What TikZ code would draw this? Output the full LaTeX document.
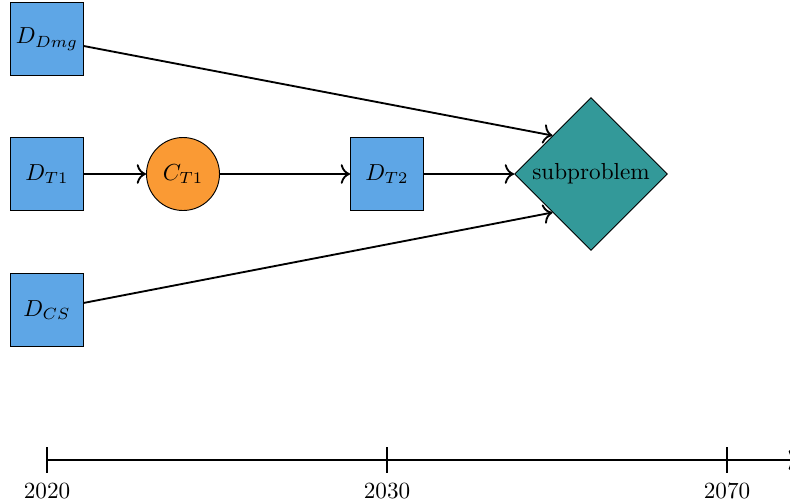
\documentclass[tikz,border=0pt]{standalone}
\usepackage{tikz}
\usetikzlibrary{shapes.geometric,positioning,arrows.meta}

\definecolor{datablue}{HTML}{5EA6E6}
\definecolor{calcorange}{HTML}{FA9A34}
\definecolor{subteal}{HTML}{339999}

\tikzset{
	databox/.style = {draw, fill=datablue, minimum size=31.5pt, inner sep=0pt},
	calccircle/.style = {draw, circle, fill=calcorange, minimum size=31.5pt, inner sep=0pt},
	subdiamond/.style = {draw, diamond, fill=subteal, minimum size=66pt, inner sep=0pt},
	link/.style = {thick, -{To[scale=1.2]}}
}

\begin{document}
\begin{tikzpicture}[x=0.01517cm, y=-0.01517cm]
	\useasboundingbox (0,0) rectangle (790,502);
	% data and subproblem
	\node[databox] (dmg) at (47,39) {$D_{Dmg}$};
	\node[databox] (t1) at (47,174) {$D_{T1}$};
	\node[databox] (cs) at (47,310) {$D_{CS}$};
	\node[calccircle] (ct1) at (183,174) {$C_{T1}$};
	\node[databox] (t2) at (387,174) {$D_{T2}$};
	\node[subdiamond] (sub) at (591,174) {subproblem};
	\draw[link] (t1) -- (ct1);
	\draw[link] (ct1) -- (t2);
	\draw[link] (t2) -- (sub);
	\draw[link] (dmg) -- (sub.north west);
	\draw[link] (cs) -- (sub.south west);
	% timeline
	\coordinate (y2020) at (47,460);
	\coordinate (y2030) at (387,460);
	\coordinate (y2070) at (727,460);
	\coordinate (tend) at (798,460);
	\draw[link] (y2020) -- (tend);
	\foreach \c/\yr in {y2020/2020, y2030/2030, y2070/2070} {
		\draw[thick] ([yshift=5.6pt]\c) -- ([yshift=-5.6pt]\c) node[below=0.5pt] {\yr};
	}
\end{tikzpicture}
\end{document}
